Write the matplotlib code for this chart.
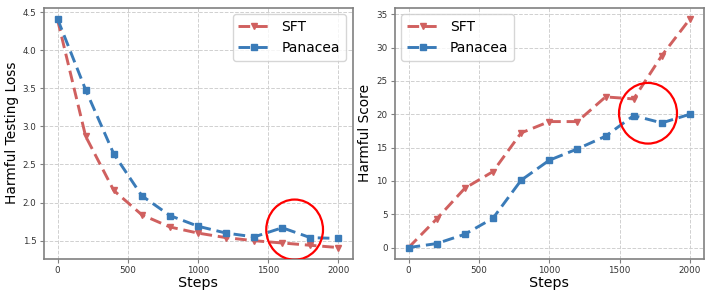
import matplotlib
matplotlib.use("Agg")
import matplotlib.pyplot as plt
from matplotlib.patches import Ellipse

steps = [0, 200, 400, 600, 800, 1000, 1200, 1400, 1600, 1800, 2000]
loss_sft = [4.40, 2.87, 2.16, 1.84, 1.68, 1.60, 1.54, 1.50, 1.47, 1.44, 1.41]
loss_panacea = [4.41, 3.48, 2.64, 2.09, 1.83, 1.69, 1.60, 1.55, 1.67, 1.54, 1.53]
score_sft = [0.0, 4.3, 8.9, 11.4, 17.2, 18.9, 18.9, 22.6, 22.3, 28.8, 34.3]
score_panacea = [0.0, 0.6, 2.0, 4.4, 10.1, 13.1, 14.8, 16.7, 19.8, 18.7, 20.0]

c_sft = "#d0605f"
c_pan = "#3a7bb8"

fig = plt.figure(figsize=(7.14, 2.98), dpi=100)
ax1 = fig.add_axes([43.5/714, 1 - 259/298, (352.5-43.5)/714, (259-7.5)/298])
ax2 = fig.add_axes([394.5/714, 1 - 259/298, (704-394.5)/714, (259-7.5)/298])

def style(ax):
    ax.grid(True, linestyle="--", color="#d0d0d0", linewidth=0.7)
    ax.set_axisbelow(True)
    for s in ax.spines.values():
        s.set_color("#808080")
        s.set_linewidth(1.2)
    ax.tick_params(labelsize=6.3, colors="#333333", length=3, pad=2, color="#808080")
    ax.set_xlabel("Steps", fontsize=10.3, labelpad=1)

ax1.plot(steps, loss_sft, linestyle="--", marker="v", color=c_sft, lw=2.1, ms=4.5, label="SFT", dashes=(4, 2))
ax1.plot(steps, loss_panacea, linestyle="--", marker="s", color=c_pan, lw=2.1, ms=4, label="Panacea", dashes=(4, 2))
ax1.set_ylabel("Harmful Testing Loss", fontsize=9.9, labelpad=3)
ax1.set_xticks([0, 500, 1000, 1500, 2000])
ax1.set_yticks([1.5, 2.0, 2.5, 3.0, 3.5, 4.0, 4.5])
style(ax1)
ax1.legend(loc="upper right", fontsize=10, handlelength=2.3, edgecolor="#cccccc", fancybox=True)
ax1.add_patch(Ellipse((1688, 1.645), 404, 0.79, fill=False, edgecolor="red", lw=1.6, zorder=5))

ax2.plot(steps, score_sft, linestyle="--", marker="v", color=c_sft, lw=2.1, ms=4.5, label="SFT", dashes=(4, 2))
ax2.plot(steps, score_panacea, linestyle="--", marker="s", color=c_pan, lw=2.1, ms=4, label="Panacea", dashes=(4, 2))
ax2.set_ylabel("Harmful Score", fontsize=9.9, labelpad=3)
ax2.set_xticks([0, 500, 1000, 1500, 2000])
ax2.set_yticks([0, 5, 10, 15, 20, 25, 30, 35])
style(ax2)
ax2.legend(loc="upper left", fontsize=10, handlelength=2.3, edgecolor="#cccccc", fancybox=True)
ax2.add_patch(Ellipse((1702, 20.15), 412, 9.1, fill=False, edgecolor="red", lw=1.6, zorder=5))

fig.savefig("out.png", dpi=100)
